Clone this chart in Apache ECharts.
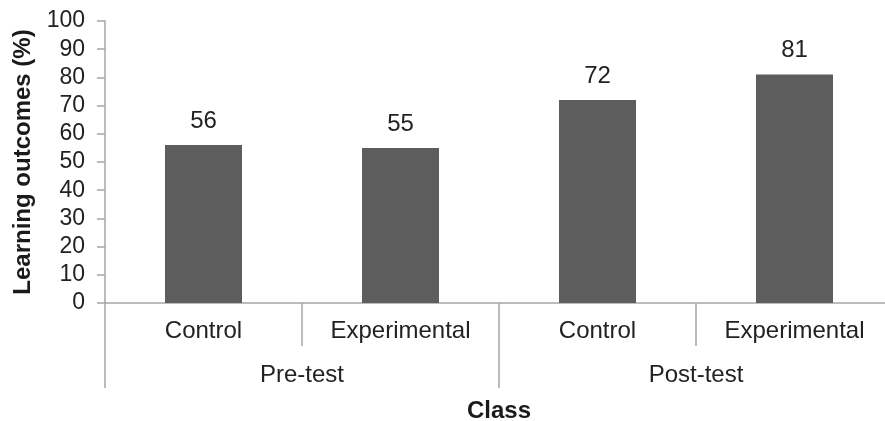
<!DOCTYPE html>
<html>
<head>
<meta charset="utf-8">
<script src="https://cdn.jsdelivr.net/npm/echarts@6/dist/echarts.min.js"></script>
<style>html,body{margin:0;padding:0;background:#fff;}#c{width:885px;height:421px;}</style>
</head>
<body>
<div id="c"></div>
<script>
const categories = ['Control', 'Experimental', 'Control', 'Experimental'];
const groups = ['Pre-test', 'Post-test'];
const values = [56, 55, 72, 81];
const yTicks = [0, 10, 20, 30, 40, 50, 60, 70, 80, 90, 100];

const FONT = '"Liberation Sans", Arial, sans-serif';
const AX = '#a6a6a6';
const chart = echarts.init(document.getElementById('c'));
chart.setOption({
  animation: false,
  backgroundColor: '#fff',
  grid: { left: 105, top: 21, width: 788, height: 282, containLabel: false, outerBoundsMode: 'none' },
  xAxis: [
    {
      type: 'category', data: categories, position: 'bottom',
      axisLine: { show: true, lineStyle: { color: AX, width: 1.5 } },
      axisTick: { show: true, length: 43, lineStyle: { color: AX, width: 1.5 } },
      axisLabel: { fontFamily: FONT, fontSize: 24, color: '#222', margin: 16 },
      splitLine: { show: false }
    },
    {
      type: 'category', data: groups, position: 'bottom',
      axisLine: { show: false },
      axisTick: { show: true, length: 85, lineStyle: { color: AX, width: 1.5 } },
      axisLabel: { fontFamily: FONT, fontSize: 24, color: '#222', margin: 60 },
      name: 'Class', nameLocation: 'middle', nameGap: 96,
      nameTextStyle: { fontFamily: FONT, fontSize: 24, fontWeight: 'bold', color: '#1a1a1a' }
    }
  ],
  yAxis: {
    type: 'value', min: yTicks[0], max: yTicks[yTicks.length - 1], interval: 10,
    axisLine: { show: true, lineStyle: { color: AX, width: 1.5 } },
    axisTick: { show: true, inside: false, length: 8, lineStyle: { color: AX, width: 1.5 } },
    axisLabel: { fontFamily: FONT, fontSize: 23, color: '#222', margin: 20 },
    splitLine: { show: false },
    name: 'Learning outcomes (%)', nameLocation: 'middle', nameGap: 67,
    nameTextStyle: { fontFamily: FONT, fontSize: 24, fontWeight: 'bold', color: '#1a1a1a' }
  },
  series: [{
    type: 'bar', xAxisIndex: 0, data: values, barWidth: 77,
    itemStyle: { color: '#5d5d5d' },
    label: { show: true, position: 'top', distance: 12, fontFamily: FONT, fontSize: 24, color: '#222' }
  }]
});
</script>
</body>
</html>
